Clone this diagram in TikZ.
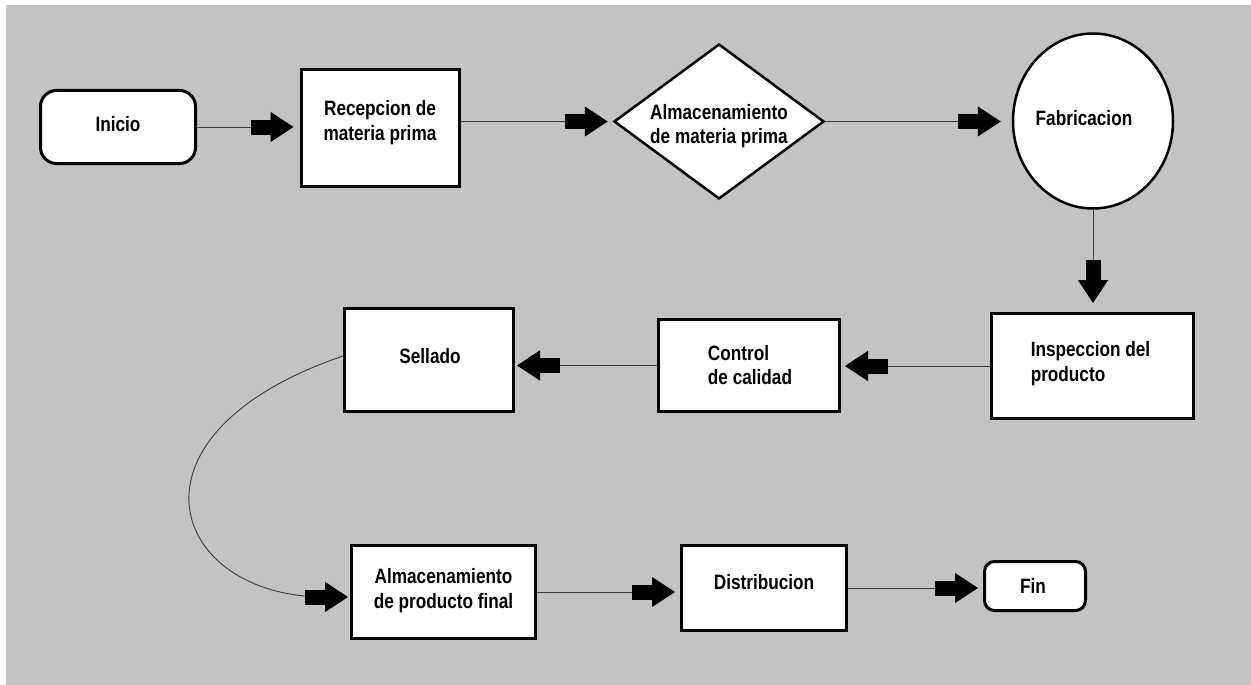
\documentclass[tikz,border=0pt]{standalone}
\usepackage{fontspec}
\setmainfont{Liberation Sans}
\usepackage{graphicx}
\usetikzlibrary{shapes.geometric,arrows.meta}
\definecolor{bgray}{RGB}{195,195,195}
\definecolor{lgray}{RGB}{60,60,60}
\newcommand\tx[2][c]{\scalebox{0.86}[1.04]{\begin{tabular}{@{}#1@{}}#2\end{tabular}}}
\begin{document}
\begin{tikzpicture}[x=1pt,y=-1pt,
  box/.style={draw=black, line width=3pt, fill=white, inner sep=0pt},
  lbl/.style={font=\bfseries\fontsize{20}{24}\selectfont, inner sep=0pt},
  conn/.style={draw=lgray, line width=0.9pt,
    -{Rectangle[length=20pt,width=15pt,color=black]Triangle[length=23pt,width=30pt,color=black]}},
]
\useasboundingbox (0,0) rectangle (1251,685);
\fill[white] (0,0) rectangle (1251,685);
\fill[bgray] (6,5) rectangle (1251,685);

\node[box, rounded corners=16pt, minimum width=155pt, minimum height=73pt,
  label={[lbl,yshift=0pt]center:\tx{Inicio}}] (ini) at (118,127) {};
\node[box, minimum width=158pt, minimum height=117pt,
  label={[lbl,yshift=5pt]center:\tx{Recepcion de\\materia prima}}] (rec) at (380,128) {};
\node[box, diamond, line width=2.5pt, minimum width=210pt, minimum height=155pt,
  label={[lbl,yshift=-5pt]center:\tx{Almacenamiento\\de materia prima}}] (alm) at (719,121.5) {};
\node[box, ellipse, line width=2.5pt, minimum width=160pt, minimum height=175pt,
  label={[lbl,xshift=-9pt,yshift=0pt]center:\tx{Fabricacion}}] (fab) at (1093,121) {};
\node[box, minimum width=202pt, minimum height=105pt,
  label={[lbl,xshift=-2pt,yshift=2pt]center:\tx[l]{Inspeccion del\\producto}}] (ins) at (1092.5,366) {};
\node[box, minimum width=181pt, minimum height=92pt,
  label={[lbl,xshift=1pt,yshift=-2pt]center:\tx[l]{Control\\de calidad}}] (ctl) at (749,365.5) {};
\node[box, minimum width=169pt, minimum height=103pt,
  label={[lbl,xshift=1pt,yshift=1pt]center:\tx{Sellado}}] (sel) at (429,360) {};
\node[box, minimum width=184pt, minimum height=93pt,
  label={[lbl,yshift=1pt]center:\tx{Almacenamiento\\de producto final}}] (apf) at (443.5,592) {};
\node[box, minimum width=165pt, minimum height=85pt,
  label={[lbl,yshift=3pt]center:\tx{Distribucion}}] (dis) at (764,588) {};
\node[box, rounded corners=10pt, minimum width=101pt, minimum height=49pt,
  label={[lbl,xshift=-2pt,yshift=-3pt]center:\tx{Fin}}] (fin) at (1035,586) {};

\draw[conn, shorten >=6pt] (ini.east) -- (ini.east -| rec.west);
\draw[conn, shorten >=5pt] (rec.east |- alm.west) -- (alm.west);
\draw[conn, shorten >=11pt] (alm.east) -- (alm.east -| fab.west);
\draw[conn, shorten >=9pt] (fab.south) -- (fab.south |- ins.north);
\draw[conn, shorten >=4pt] (ins.west) -- (ins.west -| ctl.east);
\draw[conn, shorten >=2pt] (ctl.west) -- (ctl.west -| sel.east);
\draw[conn, shorten >=2pt] ([yshift=4pt]sel.west) .. controls (112,435) and (170,597) .. ([yshift=-5pt]apf.west);
\draw[conn, shorten >=5pt] (apf.east) -- (apf.east -| dis.west);
\draw[conn, shorten >=5pt] (dis.east) -- (dis.east -| fin.west);
\end{tikzpicture}
\end{document}
